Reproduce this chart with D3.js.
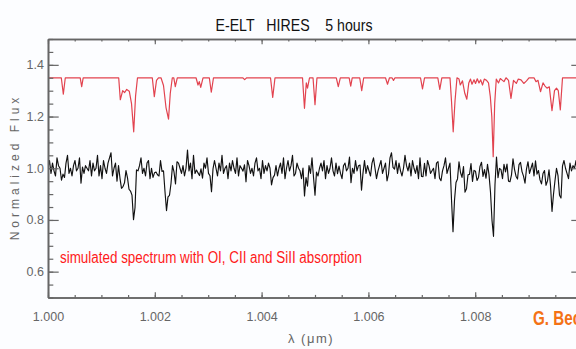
<!DOCTYPE html>
<html>
<head>
<meta charset="utf-8">
<script src="https://cdn.jsdelivr.net/npm/d3@7"></script>
<style>
  html, body { margin: 0; padding: 0; background: #fcfdff; }
  svg { display: block; }
</style>
</head>
<body>
<svg id="chart" width="576" height="349"></svg>
<script>
// Model spectrum (shown offset, continuum at 1.35): knots of wavelength (μm) and flux
const modelWave = [
  1.000000, 1.000249, 1.000287, 1.000324, 1.000603, 1.000631, 1.000659,
  1.001324, 1.001354, 1.001399, 1.001436, 1.001474, 1.001522, 1.001564, 1.001605, 1.001640, 1.001676,
  1.001953, 1.001991, 1.002032, 1.002069, 1.002116, 1.002163, 1.002210, 1.002257, 1.002290, 1.002328,
  1.002356, 1.002384, 1.002421, 1.002772, 1.002809, 1.002833, 1.002860, 1.002903,
  1.003021, 1.003058, 1.003099, 1.003646, 1.003683, 1.003721, 1.004167, 1.004208, 1.004251,
  1.004766, 1.004803, 1.004837, 1.004860, 1.004897, 1.004963, 1.005000, 1.005037,
  1.005399, 1.005436, 1.005474, 1.005640, 1.005669, 1.005697, 1.005837, 1.005875, 1.005912,
  1.006320, 1.006358, 1.006395, 1.006442, 1.006470, 1.006498,
  1.006976, 1.007013, 1.007051, 1.007300, 1.007337, 1.007375,
  1.007528, 1.007556, 1.007588, 1.007622, 1.007659, 1.007697, 1.007721, 1.007762, 1.007805, 1.007843,
  1.007880, 1.007912, 1.007940, 1.007978, 1.008006, 1.008039, 1.008071, 1.008103, 1.008137, 1.008170,
  1.008212, 1.008249, 1.008283, 1.008311, 1.008337, 1.008365, 1.008395, 1.008436, 1.008470, 1.008511,
  1.008539, 1.008577, 1.008624, 1.008670, 1.008717, 1.008770, 1.008807, 1.008858, 1.008910, 1.008961,
  1.009007, 1.009101, 1.009139, 1.009176, 1.009223, 1.009270, 1.009307, 1.009345, 1.009388, 1.009438,
  1.009485, 1.009522, 1.009556, 1.009594, 1.009635, 1.010000
];
const modelFlux = [
  1.35, 1.35, 1.287, 1.35, 1.35, 1.316, 1.35,
  1.35, 1.265, 1.30, 1.293, 1.305, 1.298, 1.25, 1.141, 1.28, 1.35,
  1.35, 1.277, 1.34, 1.35, 1.35, 1.32, 1.235, 1.19, 1.29, 1.35,
  1.35, 1.316, 1.35, 1.35, 1.322, 1.335, 1.313, 1.35,
  1.35, 1.294, 1.35, 1.35, 1.343, 1.35, 1.35, 1.274, 1.35,
  1.35, 1.232, 1.33, 1.31, 1.35, 1.35, 1.246, 1.35,
  1.35, 1.316, 1.35, 1.35, 1.318, 1.35, 1.35, 1.30, 1.35,
  1.35, 1.325, 1.35, 1.35, 1.34, 1.35,
  1.35, 1.307, 1.35, 1.35, 1.305, 1.35,
  1.35, 1.26, 1.141, 1.26, 1.35, 1.345, 1.322, 1.338, 1.29, 1.267,
  1.33, 1.345, 1.325, 1.342, 1.328, 1.346, 1.33, 1.342, 1.322, 1.345,
  1.34, 1.33, 1.277, 1.2, 1.045, 1.25, 1.345, 1.33, 1.347, 1.34,
  1.335, 1.35, 1.34, 1.27, 1.34, 1.328, 1.345, 1.342, 1.328, 1.338,
  1.35, 1.35, 1.335, 1.34, 1.296, 1.33, 1.318, 1.31, 1.315, 1.223,
  1.30, 1.31, 1.30, 1.226, 1.35, 1.35
];
// Offset between the displayed model and the observed spectrum
const modelOffset = 0.35;
// Observed-spectrum residuals about the model, one letter per pixel sample,
// in units of 0.01 (A = -7 ... H = 0 ... O = +7)
const residualCodes =
  "HKFJGELIHDKGJMFHEIKGHLDJFIHGKE" +
  "JGHMEIDKHFJLNEHJCIKGFHLIEGJHDK" +
  "GILFHEJKDHGMIFEKHJGDLHFIGEKJHF" +
  "IEHOGJDMFHIGKEJHLFGDIKHEJGMFHI" +
  "DJGKHFLEIHGJCKIFHEJLGHDKFIGJHE" +
  "KGIEHJFLDHKGIMEFJHGDKIHEJFLGHI" +
  "EHJGKDIFHLGEJHKFDIJGHMEHFKGIJD" +
  "HKFIGEJLHDGIKFHJEGLNIHKFJGEHMI" +
  "GJEKHFIDLGHJEKIFGHDJKHEGILFHJE" +
  "CHGDKIFLEHJGKEHIDFJLGHEKIGEHJM" +
  "FIHEKGJDHLNIGEJKHGDIKFHJELGIHF" +
  "HJEGKIDFHLJGEIKHFDJGIHKEFJL";

const xDomain = [1.000, 1.010];
const yDomain = [0.5, 1.5];
const xMajorTicks = [1.000, 1.002, 1.004, 1.006, 1.008, 1.010];
const xLabelledTicks = [1.000, 1.002, 1.004, 1.006, 1.008];
const yMajorTicks = [0.6, 0.8, 1.0, 1.2, 1.4];

const titleText = "E-ELT\u00a0\u00a0\u00a0HIRES\u00a0\u00a0\u00a0\u00a05 hours";
const noteText = "simulated spectrum with OI, CII and SiII absorption";
const xLabelText = "\u03bb (\u03bcm)";
const yLabelText = "Normalized Flux";
const creditText = "G. Becker";

// ---- layout
const plot = { left: 48, right: 582, top: 39, bottom: 297.5 };
const svg = d3.select("#chart");

const x = d3.scaleLinear().domain(xDomain).range([plot.left, plot.right]);
const y = d3.scaleLinear().domain(yDomain).range([plot.bottom, plot.top]);

// piecewise-linear model lookup through the knots
const model = d3.scaleLinear().domain(modelWave).range(modelFlux).clamp(true);

const nObs = residualCodes.length;
const obsWave = d3.range(nObs).map(i => xDomain[0] + i * (xDomain[1] - xDomain[0]) / (nObs - 1));
const obsFlux = obsWave.map((w, i) =>
  model(w) - modelOffset + (residualCodes.charCodeAt(i) - 72) * 0.01);

const modelPts = modelWave.map((w, i) => [w, modelFlux[i]]);
const obsPts = obsWave.map((w, i) => [w, obsFlux[i]]);

const line = d3.line().x(d => x(d[0])).y(d => y(d[1]));

svg.append("defs").append("clipPath").attr("id", "plotclip")
  .append("rect")
  .attr("x", plot.left).attr("y", plot.top)
  .attr("width", plot.right - plot.left).attr("height", plot.bottom - plot.top);

const lines = svg.append("g").attr("clip-path", "url(#plotclip)");
lines.append("path").datum(obsPts)
  .attr("d", line).attr("fill", "none")
  .attr("stroke", "#111").attr("stroke-width", 1.15).attr("stroke-linejoin", "round");
lines.append("path").datum(modelPts)
  .attr("d", line).attr("fill", "none")
  .attr("stroke", "#e2434f").attr("stroke-width", 1.2).attr("stroke-linejoin", "round");

// ---- axes (ticks pointing inward on all four sides)
const axisColor = "#666";
const tickFont = "'Liberation Sans', Arial, sans-serif";
const xMinorTicks = d3.range(0, 21).map(i => xDomain[0] + i * 0.0005);
const yMinorTicks = d3.range(0, 21).map(i => +(yDomain[0] + i * 0.05).toFixed(2));

function styleAxis(g) {
  g.select(".domain").attr("stroke", axisColor).attr("stroke-width", 1.6);
  g.selectAll(".tick line").attr("stroke", axisColor).attr("stroke-width", 1.2);
  g.selectAll(".tick text").attr("fill", "#666").attr("font-family", tickFont).attr("font-size", 12.5);
}

// bottom
svg.append("g").attr("transform", `translate(0,${plot.bottom})`)
  .call(d3.axisBottom(x).tickValues(xMinorTicks).tickSizeInner(-2.6).tickSizeOuter(0).tickFormat(""))
  .call(styleAxis);
svg.append("g").attr("transform", `translate(0,${plot.bottom})`)
  .call(d3.axisBottom(x).tickValues(xMajorTicks).tickSizeInner(-5.2).tickSizeOuter(0).tickFormat(""))
  .call(styleAxis);
svg.append("g").attr("transform", `translate(0,${plot.bottom})`)
  .call(d3.axisBottom(x).tickValues(xLabelledTicks).tickSizeInner(0).tickSizeOuter(0)
    .tickPadding(15).tickFormat(d3.format(".3f")))
  .call(styleAxis)
  .call(g => g.select(".domain").remove());
// top
svg.append("g").attr("transform", `translate(0,${plot.top})`)
  .call(d3.axisTop(x).tickValues(xMinorTicks).tickSizeInner(-2.6).tickSizeOuter(0).tickFormat(""))
  .call(styleAxis);
svg.append("g").attr("transform", `translate(0,${plot.top})`)
  .call(d3.axisTop(x).tickValues(xMajorTicks).tickSizeInner(-5.2).tickSizeOuter(0).tickFormat(""))
  .call(styleAxis);
// left
svg.append("g").attr("transform", `translate(${plot.left},0)`)
  .call(d3.axisLeft(y).tickValues(yMinorTicks).tickSizeInner(-5.3).tickSizeOuter(0).tickFormat(""))
  .call(styleAxis);
svg.append("g").attr("transform", `translate(${plot.left},0)`)
  .call(d3.axisLeft(y).tickValues(yMajorTicks).tickSizeInner(-10.7).tickSizeOuter(0)
    .tickPadding(4).tickFormat(d3.format(".1f")))
  .call(styleAxis);
// right
svg.append("g").attr("transform", `translate(${plot.right},0)`)
  .call(d3.axisRight(y).tickValues(yMinorTicks).tickSizeInner(-5.3).tickSizeOuter(0).tickFormat(""))
  .call(styleAxis);
svg.append("g").attr("transform", `translate(${plot.right},0)`)
  .call(d3.axisRight(y).tickValues(yMajorTicks).tickSizeInner(-10.7).tickSizeOuter(0).tickFormat(""))
  .call(styleAxis);

// ---- labels
svg.append("text")
  .attr("x", 294).attr("y", 31)
  .attr("text-anchor", "middle")
  .attr("font-family", "'Liberation Sans', Arial, sans-serif")
  .attr("font-size", 17).attr("fill", "#111")
  .attr("textLength", 157).attr("lengthAdjust", "spacingAndGlyphs")
  .text(titleText);

svg.append("text")
  .attr("transform", "translate(18.5,167) rotate(-90)")
  .attr("text-anchor", "middle")
  .attr("font-family", tickFont).attr("font-size", 12)
  .attr("letter-spacing", 4).attr("fill", "#666")
  .text(yLabelText);

svg.append("text")
  .attr("x", 311).attr("y", 343)
  .attr("text-anchor", "middle")
  .attr("font-family", tickFont).attr("font-size", 13)
  .attr("letter-spacing", 1.5).attr("fill", "#666")
  .text(xLabelText);

svg.append("text")
  .attr("x", 60).attr("y", 263)
  .attr("font-family", "'Liberation Sans', Arial, sans-serif")
  .attr("font-size", 16).attr("fill", "#ff1a1a")
  .attr("textLength", 302).attr("lengthAdjust", "spacingAndGlyphs")
  .text(noteText);

// credit line runs past the right edge of the page
svg.append("text")
  .attr("transform", "translate(533,325) scale(0.76,1)")
  .attr("font-family", "'Liberation Sans', Arial, sans-serif")
  .attr("font-size", 20).attr("font-weight", "bold").attr("fill", "#f47216")
  .text(creditText);
</script>
</body>
</html>
